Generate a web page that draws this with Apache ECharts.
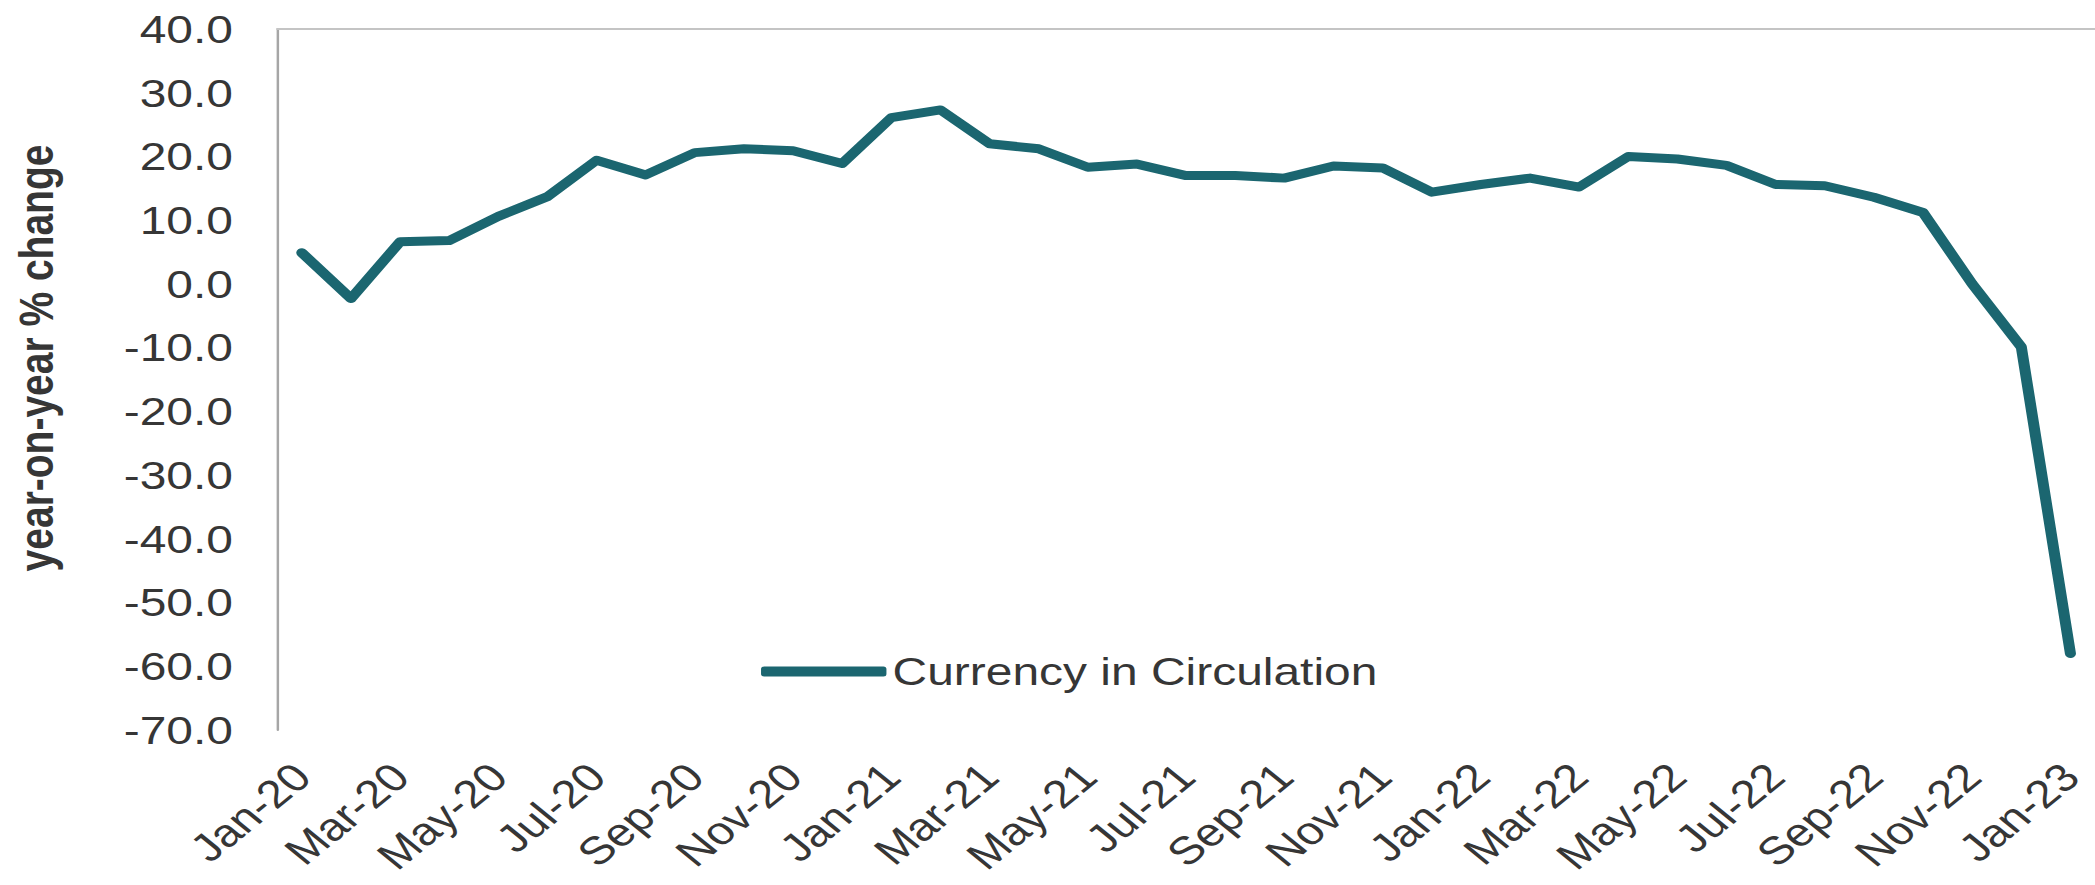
<!DOCTYPE html>
<html>
<head>
<meta charset="utf-8">
<script src="https://cdn.jsdelivr.net/npm/echarts@6/dist/echarts.min.js"></script>
<style>
  html, body { margin: 0; padding: 0; background: #fff; }
  #frame { width: 2095px; height: 885px; overflow: hidden; background: #fff; }
  /* the chart is laid out on a narrower canvas and widened to the frame */
  #chart { width: 1704px; height: 885px; transform: scaleX(1.22946); transform-origin: 0 0; }
</style>
</head>
<body>
<div id="frame"><div id="chart"></div></div>
<script>
const months = [
  'Jan-20','Feb-20','Mar-20','Apr-20','May-20','Jun-20','Jul-20','Aug-20','Sep-20','Oct-20','Nov-20','Dec-20',
  'Jan-21','Feb-21','Mar-21','Apr-21','May-21','Jun-21','Jul-21','Aug-21','Sep-21','Oct-21','Nov-21','Dec-21',
  'Jan-22','Feb-22','Mar-22','Apr-22','May-22','Jun-22','Jul-22','Aug-22','Sep-22','Oct-22','Nov-22','Dec-22',
  'Jan-23'
];
// year-on-year % change in currency in circulation
const currencyYoY = [
  4.9, -2.3, 6.6, 6.8, 10.6, 13.7, 19.4, 17.1, 20.6, 21.2, 20.9, 18.9,
  26.1, 27.3, 22.0, 21.2, 18.3, 18.8, 17.0, 17.0, 16.6, 18.5, 18.2, 14.4,
  15.6, 16.6, 15.2, 20.0, 19.6, 18.6, 15.6, 15.4, 13.6, 11.2, 0.0, -9.9,
  -58.0
];
const seriesName = 'Currency in Circulation';
const axisTitle = 'year-on-year % change';
const yMin = -70, yMax = 40, yStep = 10;

const FONT = '"Liberation Sans", Arial, sans-serif';
const TEXT = '#363636';
const TEAL = '#1b6670';

const chart = echarts.init(document.getElementById('chart'), null, { renderer: 'svg' });
chart.setOption({
  backgroundColor: '#ffffff',
  animation: false,
  grid: { left: 225.5, top: 29, width: 1479, height: 701, containLabel: false },
  legend: {
    data: [seriesName],
    left: 619,
    top: 652,
    padding: 0,
    icon: 'roundRect',
    itemWidth: 102,
    itemHeight: 10,
    textStyle: { fontFamily: FONT, fontSize: 39, color: TEXT }
  },
  xAxis: [
    {
      type: 'category',
      data: months,
      boundaryGap: true,
      axisLine: { show: false },
      axisTick: { show: false },
      axisLabel: {
        interval: 1,
        rotate: 45,
        margin: 40,
        fontFamily: FONT,
        fontSize: 39,
        color: TEXT
      }
    },
    {
      // horizontal line through zero
      type: 'category',
      data: months,
      boundaryGap: true,
      axisLine: { show: true, onZero: true, lineStyle: { color: '#c4c4c4', width: 2 } },
      axisTick: { show: false },
      axisLabel: { show: false }
    }
  ],
  yAxis: {
    type: 'value',
    min: yMin,
    max: yMax,
    interval: yStep,
    axisLine: { show: true, lineStyle: { color: '#a6a6a6', width: 2 } },
    axisTick: { show: false },
    splitLine: { show: false },
    axisLabel: {
      margin: 36,
      fontFamily: FONT,
      fontSize: 39,
      color: TEXT,
      formatter: v => v.toFixed(1)
    }
  },
  graphic: [
    {
      type: 'text',
      x: 29,
      y: 358,
      rotation: Math.PI / 2,
      style: {
        text: axisTitle,
        font: 'bold 39px ' + FONT,
        fill: TEXT,
        textAlign: 'center',
        textVerticalAlign: 'middle',
        align: 'center',
        verticalAlign: 'middle'
      }
    }
  ],
  series: [
    {
      name: seriesName,
      type: 'line',
      xAxisIndex: 0,
      data: currencyYoY,
      symbol: 'none',
      smooth: false,
      color: TEAL,
      lineStyle: { color: TEAL, width: 9, cap: 'round', join: 'round' },
      z: 5
    }
  ]
});
</script>
</body>
</html>
